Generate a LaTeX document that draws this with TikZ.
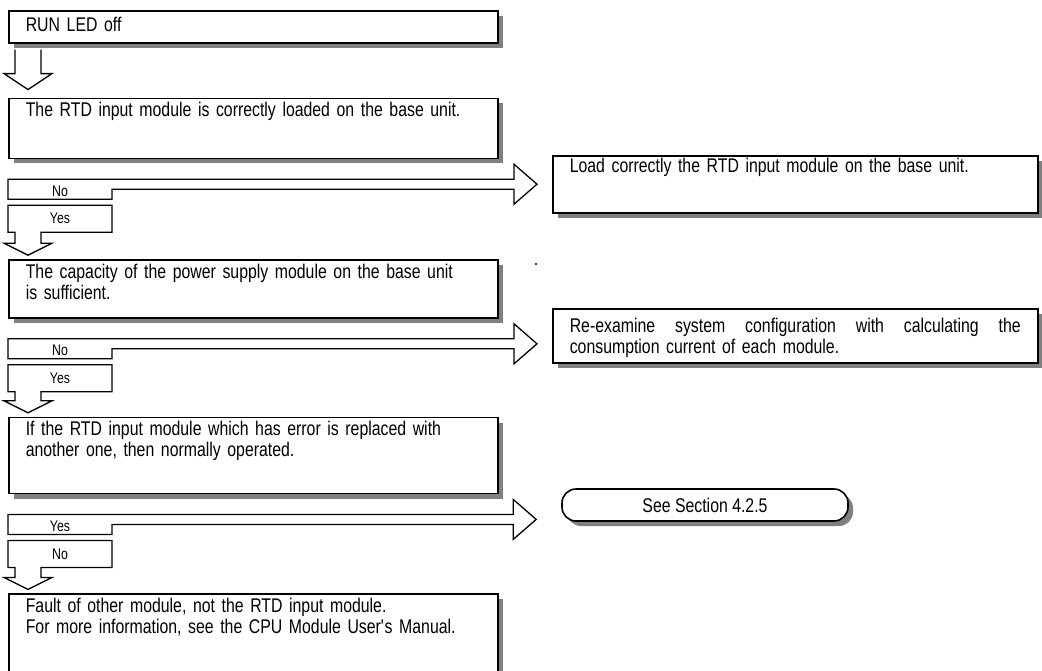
\documentclass[tikz,border=0pt]{standalone}
\usepackage{fontspec}
\setmainfont{Liberation Sans}[FakeStretch=0.80]
\usepackage{xcolor}
\usepackage{tikz}
\usetikzlibrary{calc,shadows}

\definecolor{shadowgray}{RGB}{128,128,128}
\newcommand{\stepfont}{\fontsize{19.8}{21}\selectfont}
\newcommand{\tagfont}{\fontsize{15.4}{15.4}\selectfont}

\begin{document}
\begin{tikzpicture}[x=1pt,y=-1pt,
    stepbox/.style={draw, line width=1.6pt, fill=white, anchor=north west,
        inner xsep=17pt, inner ysep=0pt, text width=455pt, align=left,
        font=\stepfont, text height=18pt,
        drop shadow={shadow xshift=5pt, shadow yshift=-5pt, opacity=1, fill=shadowgray}},
    tagbox/.style={inner sep=0pt, outer sep=0pt, minimum width=104pt,
        anchor=north west, font=\tagfont},
    righttag/.style={tagbox, minimum height=20pt, text height=14pt, text depth=0pt},
    downtag/.style={tagbox, minimum height=27pt},
    blockarrow/.style={draw, line width=1.3pt, line join=miter},
    endbox/.style={draw, line width=1.6pt, fill=white, rounded corners=14pt,
        minimum width=286pt, minimum height=32pt, font=\stepfont,
        drop shadow={shadow xshift=5pt, shadow yshift=-5pt, opacity=1, fill=shadowgray}}]

    \useasboundingbox (0,0) rectangle (1042,670);

    % 左侧各步骤框
    \node[stepbox, text height=21pt, text depth=11pt] (b1) at (8,10) {RUN LED off};
    \node[stepbox, text depth=42pt] (b2) at ([yshift=-54pt]b1.south west)
        {The RTD input module is correctly loaded on the base unit.};
    \node[righttag] (no1) at ([yshift=-20pt]b2.south west) {No};
    \node[downtag] (yes1) at ([yshift=-6pt]no1.south west) {Yes};
    \node[stepbox, text depth=40pt] (b3) at ([yshift=-27pt]yes1.south west)
        {The capacity of the power supply module on the base unit\\ is sufficient.};
    \node[righttag] (no2) at ([yshift=-20pt]b3.south west) {No};
    \node[downtag] (yes2) at ([yshift=-6pt]no2.south west) {Yes};
    \node[stepbox, text depth=58pt] (b4) at ([yshift=-25pt]yes2.south west)
        {If the RTD input module which has error is replaced with\\ another one, then normally operated.};
    \node[righttag] (yes3) at ([yshift=-20pt]b4.south west) {Yes};
    \node[downtag] (no3) at ([yshift=-6pt]yes3.south west) {No};
    \node[stepbox, text depth=90pt] (b5) at ([yshift=-26pt]no3.south west)
        {Fault of other module, not the RTD input module.\\
         For more information, see the CPU Module User\textquotesingle s Manual.};

    % 右侧处理框
    \node[stepbox, text width=451pt, text depth=40pt, text height=17pt] (load1) at (552,155)
        {Load correctly the RTD input module on the base unit.};
    \node[stepbox, text width=451pt, text depth=30pt, text height=24pt] (fix2) at (552,308)
        {\hbox to 451pt{Re-examine\hfill system\hfill configuration\hfill with\hfill calculating\hfill the}\\
         consumption current of each module.};
    \node[endbox] (see) at (705,505) {See Section 4.2.5};
    \node[circle, fill, inner sep=0pt, minimum size=2.4pt] (dot) at (536,264) {};

    % 第一个空心箭头
    \coordinate (d0) at ([xshift=20pt,yshift=8pt]b2.north west);
    \draw[blockarrow] ([xshift=-13pt,yshift=40pt]d0) -- ([xshift=-13pt,yshift=16pt]d0)
        -- ([xshift=-24pt,yshift=16pt]d0) -- (d0) -- ([xshift=24pt,yshift=16pt]d0)
        -- ([xshift=13pt,yshift=16pt]d0) -- ([xshift=13pt,yshift=40pt]d0);

    % 向右的箭头
    \foreach \tag/\dst/\gap in {no1/load1/15, no2/fix2/15, yes3/see/25}{
        \coordinate (tip) at ($(\dst.west |- \tag.north)+(-\gap,5)$);
        \draw[blockarrow] (\tag.north west) -- ([xshift=-23pt,yshift=5pt]tip)
            -- ([xshift=-23pt,yshift=20pt]tip) -- (tip) -- ([xshift=-23pt,yshift=-20pt]tip)
            -- ([xshift=-23pt,yshift=-5pt]tip) -| (\tag.south east) -- (\tag.south west) -- cycle;
    }

    % 向下的箭头
    \foreach \tag/\dst in {yes1/b3, yes2/b4, no3/b5}{
        \coordinate (tip) at ([xshift=20pt,yshift=4pt]\dst.north west);
        \draw[blockarrow] (\tag.north west) -- (\tag.north east) -- (\tag.south east)
            -| ([xshift=13pt,yshift=12pt]tip) -- ([xshift=24pt,yshift=12pt]tip) -- (tip)
            -- ([xshift=-24pt,yshift=12pt]tip) -- ([xshift=-13pt,yshift=12pt]tip)
            |- (\tag.south west) -- cycle;
    }
\end{tikzpicture}
\end{document}
